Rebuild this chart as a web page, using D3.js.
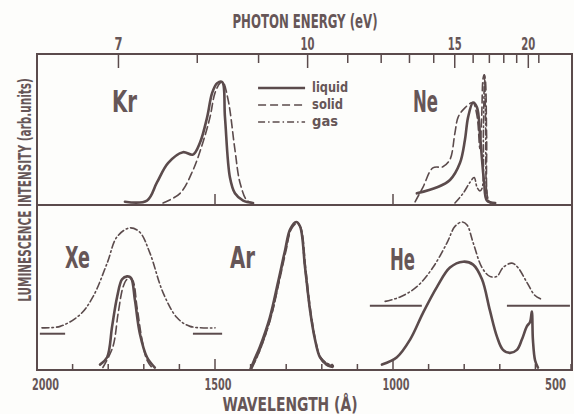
<!DOCTYPE html>
<html>
<head>
<meta charset="utf-8">
<script src="https://cdn.jsdelivr.net/npm/d3@7"></script>
<style>
  body { margin: 0; background: #fdfdfb; }
  svg { display: block; }
  text { font-family: "DejaVu Sans Condensed", "Liberation Sans Narrow", sans-serif; font-weight: bold; fill: #665657; }
</style>
</head>
<body>
<div id="chart"></div>
<script>
// ---- data (wavelength in Angstrom, intensity in arb. units, 0..1 per panel) ----
const wlTicks = [2000, 1900, 1800, 1700, 1600, 1500, 1400, 1300, 1200, 1100, 1000, 900, 800, 700, 600, 500];
const wlLabels = [2000, 1500, 1000, 500];
const dividerTicks = [1500, 1000];
const evTicks = [7, 8, 9, 10, 11, 12, 13, 14, 15, 16, 17, 18, 19, 20, 21];
const evLabels = [7, 10, 15, 20];

// top panel: Kr, Ne
const krLiquidWl = [1753, 1691, 1663, 1632, 1590, 1562, 1542, 1522, 1508, 1494, 1480, 1472, 1458, 1444, 1421, 1393];
const krLiquidI  = [0.01, 0.02, 0.17, 0.33, 0.42, 0.40, 0.50, 0.71, 0.91, 0.99, 1.0, 0.71, 0.21, 0.08, 0.02, 0.0];
const krSolidWl  = [1646, 1598, 1562, 1534, 1514, 1500, 1486, 1478, 1463, 1444, 1430, 1410, 1393];
const krSolidI   = [0.0, 0.08, 0.27, 0.50, 0.71, 0.91, 0.99, 1.0, 0.85, 0.44, 0.17, 0.02, 0.0];

const neLiquidWl = [933, 876, 840, 812, 798, 789, 775, 764, 756, 750, 744, 736, 713];
const neLiquidI  = [0.08, 0.13, 0.19, 0.33, 0.52, 0.71, 0.83, 0.79, 0.58, 0.36, 0.17, 0.02, 0.0];
const neSolidWl  = [938, 916, 888, 860, 840, 826, 817, 800, 776, 764, 756, 751, 747, 744, 741, 737, 733, 725];
const neSolidI   = [0.01, 0.13, 0.29, 0.30, 0.36, 0.58, 0.71, 0.78, 0.83, 0.72, 0.45, 0.70, 1.03, 1.06, 1.03, 0.55, 0.03, 0.0];
const neGasWl    = [826, 803, 784, 772, 764, 756, 750, 746, 743, 740, 737, 732, 726];
const neGasI     = [0.0, 0.08, 0.17, 0.21, 0.13, 0.10, 0.12, 0.60, 1.06, 0.70, 0.10, 0.02, 0.0];

// bottom panel: Xe, Ar, He
const xeLiquidWl = [1823, 1803, 1789, 1775, 1761, 1747, 1736, 1725, 1711, 1691, 1669];
const xeLiquidI  = [0.03, 0.08, 0.29, 0.49, 0.61, 0.63, 0.62, 0.47, 0.24, 0.08, 0.01];
const xeSolidWl  = [1815, 1787, 1772, 1758, 1747, 1733, 1719, 1705, 1691, 1677];
const xeSolidI   = [0.01, 0.15, 0.38, 0.56, 0.61, 0.61, 0.42, 0.20, 0.06, 0.01];
const xeGasWl    = [1986, 1935, 1879, 1843, 1803, 1775, 1739, 1711, 1683, 1646, 1607, 1570, 1500];
const xeGasI     = [0.28, 0.29, 0.37, 0.49, 0.72, 0.90, 0.96, 0.93, 0.79, 0.52, 0.35, 0.29, 0.28];
const xeGasBase  = 0.24;
const xeGasBaseSegs = [[1992, 1921], [1562, 1480]];

const arLiquidWl = [1400, 1390, 1374, 1346, 1323, 1303, 1289, 1272, 1261, 1247, 1233, 1219, 1205, 1185, 1169];
const arLiquidI  = [0.0, 0.06, 0.15, 0.35, 0.59, 0.81, 0.95, 1.0, 0.97, 0.69, 0.40, 0.20, 0.08, 0.03, 0.02];
const arSolidWl  = [1397, 1386, 1370, 1343, 1320, 1300, 1286, 1270, 1259, 1245, 1231, 1217, 1203, 1183, 1167];
const arSolidI   = [0.0, 0.06, 0.15, 0.35, 0.59, 0.81, 0.95, 0.99, 0.96, 0.68, 0.39, 0.19, 0.07, 0.02, 0.01];
const arGasWl    = [1395, 1384, 1369, 1342, 1320, 1301, 1287, 1272, 1261, 1248, 1234, 1220, 1206, 1186, 1170];
const arGasI     = [0.02, 0.07, 0.16, 0.36, 0.60, 0.82, 0.95, 1.0, 0.97, 0.70, 0.41, 0.21, 0.09, 0.04, 0.03];

const heLiquidWl = [1031, 989, 952, 916, 876, 840, 803, 775, 750, 728, 708, 691, 671, 652, 638, 624, 615, 610, 607, 601, 593];
const heLiquidI  = [0.03, 0.08, 0.20, 0.38, 0.56, 0.69, 0.73, 0.71, 0.61, 0.40, 0.22, 0.13, 0.11, 0.13, 0.20, 0.29, 0.32, 0.39, 0.20, 0.06, 0.01];
const heGasWl    = [1022, 980, 933, 888, 848, 826, 806, 792, 775, 750, 728, 708, 691, 666, 649, 624, 601, 579];
const heGasI     = [0.46, 0.49, 0.56, 0.69, 0.86, 0.97, 1.0, 0.98, 0.86, 0.69, 0.63, 0.63, 0.69, 0.72, 0.69, 0.59, 0.50, 0.47];
const heGasBase  = 0.43;
const heGasBaseSegs = [[1065, 919], [680, 503]];

const legendNames = ["liquid", "solid", "gas"];
const panelNames = ["Kr", "Ne", "Xe", "Ar", "He"];

// ---- layout ----
const W = 574, H = 414;
const ink = "#5b4b4c";
const dashes = { liquid: null, solid: "8,4", gas: "7,3,1.5,3" };
const widths = { liquid: 2.6, solid: 1.6, gas: 1.6 };

const svg = d3.select("#chart").append("svg").attr("width", W).attr("height", H);

const x = d3.scaleLinear().domain([2000, 500]).range([37, 571]);
const evToX = (e) => x(12398.4 / e);
const yTop = d3.scaleLinear().domain([0, 1]).range([203, 82]);
const yBot = d3.scaleLinear().domain([0, 1]).range([369, 222]);

const frameTop = 54, frameBot = 370, divY = 205;

// frame
svg.append("rect")
  .attr("x", x(2000)).attr("y", frameTop)
  .attr("width", x(500) - x(2000) + 1).attr("height", frameBot - frameTop)
  .attr("fill", "none").attr("stroke", ink).attr("stroke-width", 2);
svg.append("line")
  .attr("x1", x(2000)).attr("x2", x(500) + 1).attr("y1", divY).attr("y2", divY)
  .attr("stroke", ink).attr("stroke-width", 2);

// bottom ticks
svg.selectAll(".wtick").data(wlTicks).enter().append("line")
  .attr("x1", (d) => x(d)).attr("x2", (d) => x(d))
  .attr("y1", frameBot)
  .attr("y2", (d) => (d === 1500 || d === 1000 ? frameBot - 11 : frameBot - 6))
  .attr("stroke", ink).attr("stroke-width", 1.5);
svg.selectAll(".dtick").data(dividerTicks).enter().append("line")
  .attr("x1", (d) => x(d)).attr("x2", (d) => x(d))
  .attr("y1", divY).attr("y2", divY - 11)
  .attr("stroke", ink).attr("stroke-width", 1.5);

svg.selectAll(".wlab").data(wlLabels).enter().append("text")
  .attr("x", (d, i) => (i === 0 ? x(d) - 5 : i === wlLabels.length - 1 ? x(d) - 5 : x(d) + 3))
  .attr("y", 390)
  .attr("text-anchor", (d, i) => (i === 0 ? "start" : i === wlLabels.length - 1 ? "end" : "middle"))
  .attr("font-size", 16)
  .attr("textLength", (d) => (d >= 1000 ? 27 : 21))
  .attr("lengthAdjust", "spacingAndGlyphs")
  .text((d) => d);

// top ticks (photon energy)
svg.selectAll(".etick").data(evTicks).enter().append("line")
  .attr("x1", (d) => evToX(d)).attr("x2", (d) => evToX(d))
  .attr("y1", frameTop)
  .attr("y2", (d) => (evLabels.includes(d) ? frameTop + 14 : frameTop + 9))
  .attr("stroke", ink).attr("stroke-width", 1.5);
svg.selectAll(".elab").data(evLabels).enter().append("text")
  .attr("x", (d) => evToX(d)).attr("y", 50)
  .attr("text-anchor", "middle")
  .attr("font-size", 17)
  .attr("textLength", (d) => (d < 10 ? 8 : 14))
  .attr("lengthAdjust", "spacingAndGlyphs")
  .text((d) => d);

// axis titles
svg.append("text").attr("x", 305).attr("y", 28).attr("text-anchor", "middle")
  .attr("font-size", 19).attr("textLength", 145).attr("lengthAdjust", "spacingAndGlyphs")
  .text("PHOTON ENERGY (eV)");
svg.append("text").attr("x", 290).attr("y", 411).attr("text-anchor", "middle")
  .attr("font-size", 19).attr("textLength", 135).attr("lengthAdjust", "spacingAndGlyphs")
  .text("WAVELENGTH (Å)");

// y title: squeeze horizontally with a scale so the box stays inside the page
const yTitle = svg.append("text")
  .attr("text-anchor", "middle")
  .attr("font-size", 18)
  .text("LUMINESCENCE INTENSITY (arb.units)");
const natural = yTitle.node().getComputedTextLength();
yTitle.attr("transform", `translate(31,190) rotate(-90) scale(${224 / natural},1)`);

// curves
function drawCurve(wl, vals, yScale, kind) {
  const pts = wl.map((w, i) => [x(w), yScale(vals[i])]);
  const line = d3.line().curve(d3.curveCatmullRom.alpha(0.5));
  svg.append("path")
    .attr("d", line(pts))
    .attr("fill", "none")
    .attr("stroke", ink)
    .attr("stroke-width", widths[kind])
    .attr("stroke-linejoin", "round")
    .attr("stroke-linecap", "round")
    .attr("stroke-dasharray", dashes[kind]);
}

drawCurve(krLiquidWl, krLiquidI, yTop, "liquid");
drawCurve(krSolidWl, krSolidI, yTop, "solid");
drawCurve(neLiquidWl, neLiquidI, yTop, "liquid");
drawCurve(neSolidWl, neSolidI, yTop, "solid");
drawCurve(neGasWl, neGasI, yTop, "gas");

drawCurve(xeGasWl, xeGasI, yBot, "gas");
drawCurve(xeLiquidWl, xeLiquidI, yBot, "liquid");
drawCurve(xeSolidWl, xeSolidI, yBot, "solid");
drawCurve(arGasWl, arGasI, yBot, "gas");
drawCurve(arSolidWl, arSolidI, yBot, "solid");
drawCurve(arLiquidWl, arLiquidI, yBot, "liquid");
drawCurve(heGasWl, heGasI, yBot, "gas");
drawCurve(heLiquidWl, heLiquidI, yBot, "liquid");

// zero lines of the gas spectra
[[xeGasBaseSegs, xeGasBase], [heGasBaseSegs, heGasBase]].forEach(([segs, base]) => {
  segs.forEach((s) => {
    svg.append("line")
      .attr("x1", x(s[0])).attr("x2", x(s[1]))
      .attr("y1", yBot(base)).attr("y2", yBot(base))
      .attr("stroke", ink).attr("stroke-width", 2);
  });
});

// legend
const legendWl = [1379, 1247];
legendNames.forEach((name, i) => {
  const ly = 88 + i * 17;
  svg.append("line")
    .attr("x1", x(legendWl[0])).attr("x2", x(legendWl[1]))
    .attr("y1", ly).attr("y2", ly)
    .attr("stroke", ink)
    .attr("stroke-width", widths[name])
    .attr("stroke-dasharray", dashes[name]);
  svg.append("text")
    .attr("x", x(legendWl[1]) + 7).attr("y", ly + 4)
    .attr("font-size", 14)
    .attr("font-weight", "normal")
    .attr("textLength", [36, 31, 26][i])
    .attr("lengthAdjust", "spacingAndGlyphs")
    .text(name);
});

// panel labels
const panelPos = [[112, 112], [413, 112], [65, 268], [230, 268], [390, 270]];
panelNames.forEach((n, i) => {
  svg.append("text")
    .attr("x", panelPos[i][0]).attr("y", panelPos[i][1])
    .attr("font-size", 30)
    .attr("textLength", 25)
    .attr("lengthAdjust", "spacingAndGlyphs")
    .text(n);
});
</script>
</body>
</html>
